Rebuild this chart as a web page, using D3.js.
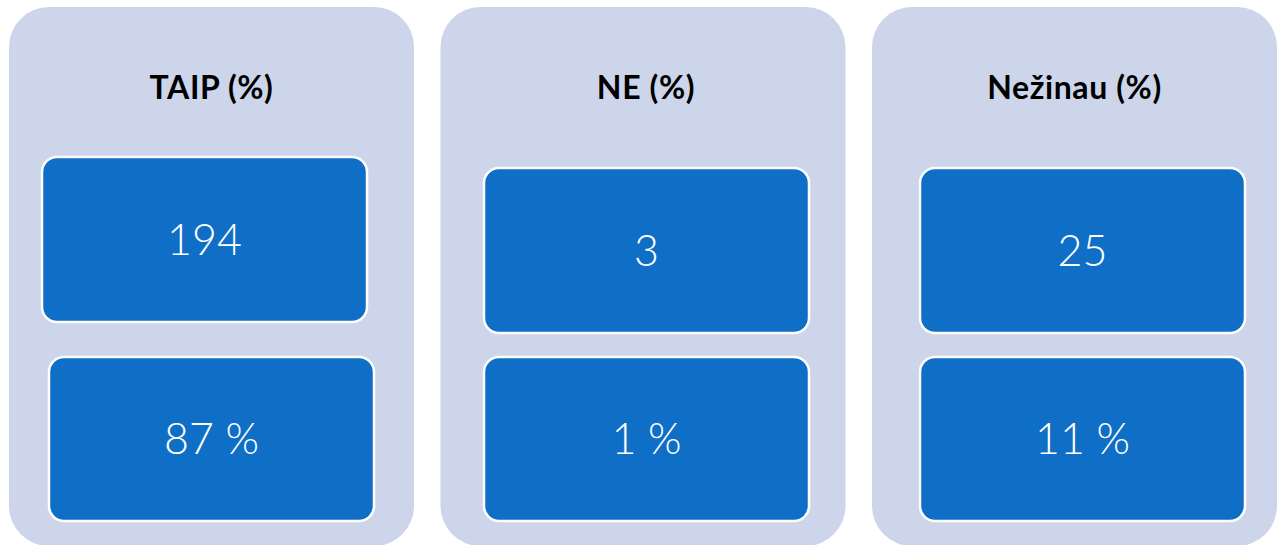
<!DOCTYPE html>
<html>
<head>
<meta charset="utf-8">
<script src="https://cdn.jsdelivr.net/npm/d3@7/dist/d3.min.js"></script>
<style>
  html, body { margin: 0; padding: 0; background: #ffffff; }
  svg { display: block; }
</style>
</head>
<body>
<svg id="chart" width="1283" height="545"></svg>
<script>
// ---- data ----
const categories = ["TAIP (%)", "NE (%)", "Nežinau (%)"];
const counts = [194, 3, 25];
const percents = [87, 1, 11];

// ---- layout (styling only) ----
const W = 1283, H = 545;
const panelTop = 7, panelBottom = 546, panelRadius = 40;
const boxW = 325, boxRadius = 15;
// per-panel small nudges of inner boxes, relative to the panel band
const topBoxDx = [33, 43.5, 48];
const botBoxDx = [40, 43.5, 48];
const topBoxY = [157, 168, 168];
const topBoxH = [165, 165, 165];
const botBoxY = 357, botBoxH = 164;

const svg = d3.select("#chart");

const x = d3.scaleBand()
  .domain(categories)
  .range([9, 1277])
  .paddingInner(0.0614)
  .paddingOuter(0);

const rows = categories.map((c, i) => ({ cat: c, count: counts[i], pct: percents[i], i }));

const g = svg.selectAll("g.panel")
  .data(rows)
  .join("g")
  .attr("class", "panel")
  .attr("transform", d => `translate(${x(d.cat)},0)`);

g.append("rect")
  .attr("x", 0)
  .attr("y", panelTop)
  .attr("width", x.bandwidth())
  .attr("height", panelBottom - panelTop)
  .attr("rx", panelRadius)
  .attr("ry", panelRadius)
  .attr("fill", "#CDD5EA");

g.append("text")
  .attr("x", d => x.bandwidth() / 2 + (d.i === 1 ? 3 : 0))
  .attr("y", 99)
  .attr("text-anchor", "middle")
  .attr("font-family", "Lato, 'DejaVu Sans', sans-serif")
  .attr("font-weight", 700)
  .attr("font-size", 32)
  .attr("letter-spacing", 0.6)
  .attr("fill", "#000")
  .text(d => d.cat);

// top boxes (counts)
g.append("rect")
  .attr("x", d => topBoxDx[d.i])
  .attr("y", d => topBoxY[d.i])
  .attr("width", boxW)
  .attr("height", d => topBoxH[d.i])
  .attr("rx", boxRadius)
  .attr("fill", "#0F6FC6")
  .attr("stroke", "#ffffff")
  .attr("stroke-width", 2.5);

g.append("text")
  .attr("x", d => topBoxDx[d.i] + boxW / 2)
  .attr("y", d => topBoxY[d.i] + topBoxH[d.i] / 2)
  .attr("dy", "0.36em")
  .attr("text-anchor", "middle")
  .attr("font-family", "Lato, 'Open Sans', sans-serif")
  .attr("font-weight", 300)
  .attr("font-size", 43)
  .attr("fill", "#ffffff")
  .text(d => d.count);

// bottom boxes (percents)
g.append("rect")
  .attr("x", d => botBoxDx[d.i])
  .attr("y", botBoxY)
  .attr("width", boxW)
  .attr("height", botBoxH)
  .attr("rx", boxRadius)
  .attr("fill", "#0F6FC6")
  .attr("stroke", "#ffffff")
  .attr("stroke-width", 2.5);

g.append("text")
  .attr("x", d => botBoxDx[d.i] + boxW / 2)
  .attr("y", botBoxY + botBoxH / 2)
  .attr("dy", "0.36em")
  .attr("text-anchor", "middle")
  .attr("font-family", "Lato, 'Open Sans', sans-serif")
  .attr("font-weight", 300)
  .attr("font-size", 43)
  .attr("fill", "#ffffff")
  .text(d => d.pct + " %");
</script>
</body>
</html>
